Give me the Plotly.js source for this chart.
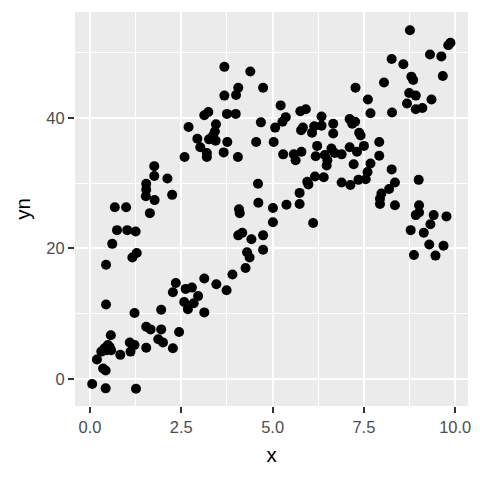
<!DOCTYPE html>
<html>
<head>
<meta charset="utf-8">
<script src="https://cdn.plot.ly/plotly-3.0.1.min.js"></script>
<style>html,body{margin:0;padding:0;background:#fff;}#chart{width:480px;height:480px;}</style>
</head>
<body>
<div id="chart"></div>
<script>
var xVals = [
0.06,0.43,1.26,0.19,0.36,0.43,0.31,0.45,0.54,0.57,0.58,0.49,0.40,0.44,0.44,0.61,0.74,0.68,0.99,1.02,
1.25,1.16,1.28,1.22,0.83,1.09,1.11,1.22,1.54,1.54,1.66,1.87,2.00,1.95,1.95,2.27,2.44,2.27,2.35,2.58,
2.68,2.62,2.79,2.84,2.96,3.13,3.13,3.46,3.74,3.90,4.26,4.30,4.37,4.42,4.74,4.74,4.06,4.17,4.08,4.10,
4.60,4.61,5.01,5.01,5.38,5.74,5.74,5.95,5.98,6.11,6.16,6.40,
1.54,1.54,1.53,1.64,1.77,1.76,1.76,2.12,2.25,2.59,2.70,2.94,3.02,3.13,3.24,3.20,3.20,3.26,3.37,3.42,
3.45,3.44,3.66,3.68,3.68,3.75,3.76,3.99,4.00,4.06,4.05,4.39,4.55,4.74,4.68,5.03,5.07,5.22,5.27,5.36,
5.29,5.58,5.63,5.79,5.76,5.91,5.78,5.83,6.08,6.14,6.22,6.18,6.34,6.34,6.43,6.48,6.50,6.61,6.66,6.66,
6.70,6.89,6.89,7.13,7.11,7.11,7.18,7.26,7.22,7.27,7.31,7.37,7.41,7.50,7.35,7.55,7.60,7.68,7.61,7.68,
7.92,7.92,7.94,7.94,7.98,8.19,8.26,8.35,8.35,8.05,8.26,8.27,8.58,8.68,8.74,8.76,8.80,8.85,8.92,8.92,
9.10,8.78,8.87,8.92,9.00,9.01,9.01,9.14,9.29,9.32,9.31,9.35,9.41,9.46,9.62,9.66,9.68,9.76,9.81,9.87
];
var ynVals = [
-0.77,-1.43,-1.48,3.0,1.6,1.3,4.2,4.4,4.9,6.7,4.4,5.2,4.7,11.4,17.5,20.7,22.8,26.3,26.3,22.8,
22.6,18.6,19.3,10.1,3.7,5.6,4.2,5.2,4.8,8.0,7.6,6.1,5.6,7.6,10.6,4.7,7.2,13.3,14.7,11.8,
10.7,13.8,14.0,11.6,12.7,10.2,15.4,14.5,13.6,16.0,17.0,19.4,18.6,21.4,19.8,22.0,22.0,22.4,26.0,25.4,
29.9,27.0,26.2,24.0,26.7,26.8,28.5,30.2,29.8,23.9,31.0,30.9,
29.9,29.0,28.0,25.4,27.4,32.6,31.1,30.7,28.2,34.0,38.6,36.8,35.5,40.4,40.9,34.6,34.0,36.7,37.3,37.9,
39.0,36.5,34.7,47.8,43.4,40.6,36.3,40.6,43.5,44.6,34.0,47.1,36.3,44.6,39.3,36.3,38.5,41.9,39.4,40.1,
34.4,34.4,33.5,34.8,41.0,41.3,38.1,38.5,37.7,38.7,35.7,34.1,40.2,38.8,34.3,32.7,33.5,35.3,39.1,37.6,
34.6,34.4,30.1,29.7,35.5,39.8,39.1,39.4,32.9,44.6,34.8,37.7,37.3,35.7,30.5,30.6,31.7,33.0,42.8,40.7,
36.3,34.2,27.6,26.8,28.4,29.1,32.1,30.1,26.6,45.4,49.0,40.8,48.2,42.2,43.8,53.4,46.3,45.8,43.4,41.3,
41.5,22.8,19.0,25.1,30.5,26.6,25.5,22.4,20.6,23.7,49.7,42.8,25.1,18.9,49.4,46.4,20.4,24.9,51.1,51.5
];
var xTickVals = [0, 2.5, 5, 7.5, 10];
var xTickText = ["0.0", "2.5", "5.0", "7.5", "10.0"];
var yTickVals = [0, 20, 40];
var yTickText = ["0", "20", "40"];

var trace = {
  x: xVals, y: ynVals, type: 'scatter', mode: 'markers',
  marker: {color: '#000000', size: 10, line: {width: 0}},
  hoverinfo: 'skip'
};
var fontFam = 'Liberation Sans, Arial, sans-serif';
var layout = {
  width: 480, height: 480,
  margin: {l: 75, r: 12, t: 12, b: 74},
  paper_bgcolor: '#ffffff', plot_bgcolor: '#EBEBEB',
  showlegend: false,
  font: {family: fontFam},
  xaxis: {
    range: [-0.41, 10.35], tickvals: xTickVals, ticktext: xTickText,
    showgrid: true, gridcolor: '#ffffff', gridwidth: 2, zeroline: false,
    minor: {tickvals: [1.25, 3.75, 6.25, 8.75], showgrid: true, gridcolor: '#ffffff', gridwidth: 1, ticks: ''},
    ticks: 'outside', ticklen: 6, tickwidth: 2, tickcolor: '#333333',
    tickfont: {size: 16.5, color: '#4D4D4D', family: fontFam},
    showline: false,
    title: {text: 'x', font: {size: 20.5, color: '#000000', family: fontFam}, standoff: 12}
  },
  yaxis: {
    range: [-4.13, 56.2], tickvals: yTickVals, ticktext: yTickText,
    showgrid: true, gridcolor: '#ffffff', gridwidth: 2, zeroline: false,
    minor: {tickvals: [10, 30, 50], showgrid: true, gridcolor: '#ffffff', gridwidth: 1, ticks: ''},
    ticks: 'outside', ticklen: 6, tickwidth: 2, tickcolor: '#333333',
    tickfont: {size: 16.5, color: '#4D4D4D', family: fontFam},
    showline: false,
    title: {text: 'yn', font: {size: 20.5, color: '#000000', family: fontFam}, standoff: 10}
  }
};
Plotly.newPlot('chart', [trace], layout, {displayModeBar: false, staticPlot: true});
</script>
</body>
</html>
